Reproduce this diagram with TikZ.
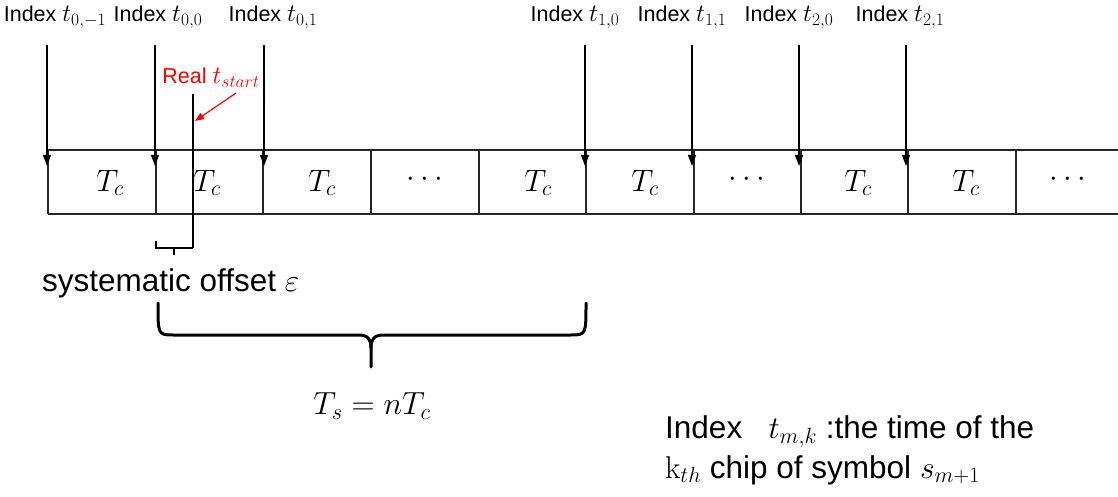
\RequirePackage{fix-cm}
\documentclass[tikz,border=0pt]{standalone}
\usepackage[no-math]{fontspec}
\setmainfont{Liberation Sans}
\usetikzlibrary{arrows.meta}
\newcommand{\lblmath}[1]{{\fontsize{25}{25}\selectfont$#1$}}
\begin{document}
\begin{tikzpicture}[x=1pt,y=-1pt,
  idx/.style={font=\fontsize{21.5}{25}\selectfont, inner sep=0, anchor=base},
  tc/.style={font=\fontsize{31}{34}\selectfont, inner sep=0},
  big/.style={font=\fontsize{31.5}{36}\selectfont, inner sep=0, anchor=west},
  ptr/.style={line width=1.3pt, -{Triangle[width=8pt,length=11pt]}},
  cell/.style={line width=1.6pt, draw=black!85},
  thin/.style={line width=1.3pt}]
\useasboundingbox (0,0) rectangle (1118,497);

% grid
\draw[cell] (48,150) -- (1118,150);
\draw[cell] (48,214) -- (1118,214);
\foreach \x in {48,156,263,371,479,586,694,801,908,1016}
  \draw[cell] (\x,150) -- (\x,214);

% cell texts
\node[tc] (c1) at (110,183) {$T_c$};
\node[tc] (c2) at (207,183) {$T_c$};
\node[tc] (c3) at (322,183) {$T_c$};
\node[tc] (c4) at (425,180) {$\cdots$};
\node[tc] (c5) at (538,183) {$T_c$};
\node[tc] (c6) at (645,183) {$T_c$};
\node[tc] (c7) at (747,180) {$\cdots$};
\node[tc] (c8) at (858,183) {$T_c$};
\node[tc] (c9) at (966,183) {$T_c$};
\node[tc] (c10) at (1068,180) {$\cdots$};

% index labels
\node[idx] (l1) at (55,22) {Index \lblmath{t_{0,-1}}};
\node[idx] (l2) at (158,22) {Index \lblmath{t_{0,0}}};
\node[idx] (l3) at (273,22) {Index \lblmath{t_{0,1}}};
\node[idx] (l4) at (575,22) {Index \lblmath{t_{1,0}}};
\node[idx] (l5) at (682,22) {Index \lblmath{t_{1,1}}};
\node[idx] (l6) at (789,22) {Index \lblmath{t_{2,0}}};
\node[idx] (l7) at (900,22) {Index \lblmath{t_{2,1}}};

% arrows
\foreach \n/\x in {a1/47,a2/155,a3/264,a4/585,a5/692,a6/799,a7/906}{
  \coordinate (\n s) at (\x,45);
  \coordinate (\n e) at (\x,166);
  \draw[ptr] (\n s) -- (\n e);
}

% real t_start
\node[idx, red] (real) at (211,84) {Real \lblmath{t_{start}}};
\coordinate (rs) at (193,94);
\coordinate (re) at (193,248);
\draw[thin] (rs) -- (re);
\coordinate (ra) at (236,93);
\coordinate (rb) at (195,121);
\draw[red, line width=1.2pt, -{Triangle[width=7pt,length=9pt]}] (ra) -- (rb);

% small brace
\coordinate (sb1) at (156,241);
\coordinate (sb2) at (156,248);
\coordinate (sm1) at (174,248);
\coordinate (sm2) at (174,255);
\draw[thin] (sb1) -- (sb2) -- (re);
\draw[thin] (sm1) -- (sm2);

\node[big] (sys) at (42,283) {systematic offset $\varepsilon$};

% big brace
\coordinate (bl) at (158,303);
\coordinate (br) at (586,303);
\coordinate (bt) at (371,367);
\draw[line width=3pt, line cap=round, line join=round]
  (bl) .. controls (158,335) and (158,335) .. (174,335) -- (358,335)
  .. controls (368,335) and (371,339) .. (371,348) -- (bt);
\draw[line width=3pt, line cap=round, line join=round]
  (br) .. controls (586,335) and (586,335) .. (570,335) -- (384,335)
  .. controls (374,335) and (371,339) .. (371,348);

\node[tc, font=\fontsize{32}{36}\selectfont] (ts) at (372,406) {$T_s = nT_c$};

\node[big] (n1) at (665,432) {Index\ \ \ $t_{m,k}$ :the time of the};
\node[big] (n2) at (665,470) {$\mathrm{k}_{th}$ chip of symbol $s_{m+1}$};
\end{tikzpicture}
\end{document}
